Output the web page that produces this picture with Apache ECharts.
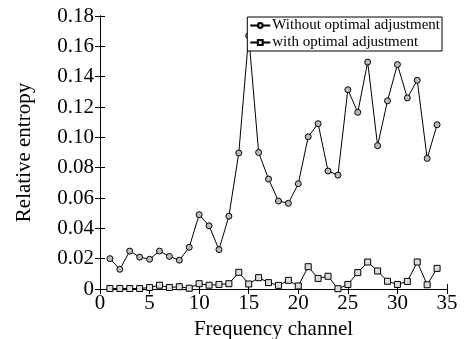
<!DOCTYPE html>
<html>
<head>
<meta charset="utf-8">
<script src="https://cdn.jsdelivr.net/npm/echarts@6/dist/echarts.min.js"></script>
<style>
  html, body { margin: 0; padding: 0; background: #fff; }
  #chart { width: 469px; height: 339px; }
</style>
</head>
<body>
<div id="chart"></div>
<script>
// 频率通道
var channels = [1,2,3,4,5,6,7,8,9,10,11,12,13,14,15,16,17,18,19,20,21,22,23,24,25,26,27,28,29,30,31,32,33,34];
// 未优化调整
var withoutAdj = [0.020,0.013,0.025,0.021,0.0196,0.025,0.0215,0.019,0.0275,0.049,0.0417,0.026,0.048,0.0897,0.167,
  0.090,0.0725,0.058,0.0565,0.0694,0.1004,0.109,0.0778,0.0751,0.1314,0.1165,0.1496,0.0945,0.1241,0.148,0.126,0.1376,0.0861,0.1083];
// 优化调整后
var withAdj = [0.0003,0.0003,0.0003,0.0003,0.001,0.0025,0.001,0.0015,0.0005,0.0035,0.0025,0.003,0.0035,0.011,0.0033,
  0.0075,0.0042,0.0024,0.0057,0.002,0.0147,0.007,0.0084,0.0002,0.003,0.0108,0.0178,0.0119,0.0051,0.003,0.005,0.0178,0.0028,0.0136];
var seriesNames = ['Without optimal adjustment', 'with optimal adjustment'];

var font = 'Liberation Serif';
var chart = echarts.init(document.getElementById('chart'));

function pairs(arr) {
  return arr.map(function (v, i) { return [channels[i], v]; });
}

var axisLineStyle = { show: true, lineStyle: { color: '#000', width: 1 } };
var tickStyle = { show: true, inside: true, length: 5, lineStyle: { color: '#000' } };

chart.setOption({
  animation: false,
  backgroundColor: '#fff',
  grid: { left: 100, right: 22, top: 16, bottom: 50, containLabel: false, outerBoundsMode: 'none' },
  legend: {
    data: seriesNames,
    orient: 'vertical',
    right: 27,
    top: 17,
    itemGap: 2,
    itemWidth: 20,
    itemHeight: 6,
    padding: [1, 2, 1, 2],
    borderColor: '#000',
    borderWidth: 1,
    backgroundColor: '#fff',
    textStyle: { fontFamily: font, fontSize: 15, color: '#000', padding: [0, 0, 0, -3] }
  },
  xAxis: [{
    type: 'value', min: 0, max: 35, interval: 5,
    name: 'Frequency channel', nameLocation: 'middle', nameGap: 29,
    nameTextStyle: { fontFamily: font, fontSize: 21, color: '#000' },
    axisLine: axisLineStyle, axisTick: tickStyle,
    axisLabel: { fontFamily: font, fontSize: 21, color: '#000', margin: 4 },
    splitLine: { show: false }
  }, {
    type: 'value', min: 0, max: 35, interval: 5, position: 'top',
    axisLine: axisLineStyle, axisTick: tickStyle,
    axisLabel: { show: false }, splitLine: { show: false }
  }],
  yAxis: [{
    type: 'value', min: 0, max: 0.18, interval: 0.02,
    name: 'Relative entropy', nameLocation: 'middle', nameGap: 65,
    nameTextStyle: { fontFamily: font, fontSize: 21, color: '#000' },
    axisLine: axisLineStyle, axisTick: tickStyle,
    axisLabel: {
      fontFamily: font, fontSize: 21, color: '#000', margin: 6,
      formatter: function (v) { return v === 0 ? '0' : v.toFixed(2); }
    },
    splitLine: { show: false }
  }, {
    type: 'value', min: 0, max: 0.18, interval: 0.02, position: 'right',
    axisLine: axisLineStyle, axisTick: tickStyle,
    axisLabel: { show: false }, splitLine: { show: false }
  }],
  series: [{
    name: seriesNames[0],
    type: 'line',
    data: pairs(withoutAdj),
    symbol: 'circle',
    symbolSize: 6,
    lineStyle: { color: '#000', width: 1 },
    itemStyle: { color: '#bbb', borderColor: '#000', borderWidth: 1 }
  }, {
    name: seriesNames[1],
    type: 'line',
    data: pairs(withAdj),
    symbol: 'rect',
    symbolSize: 6,
    lineStyle: { color: '#000', width: 1 },
    itemStyle: { color: '#ddd', borderColor: '#000', borderWidth: 1 }
  }]
});
</script>
</body>
</html>
